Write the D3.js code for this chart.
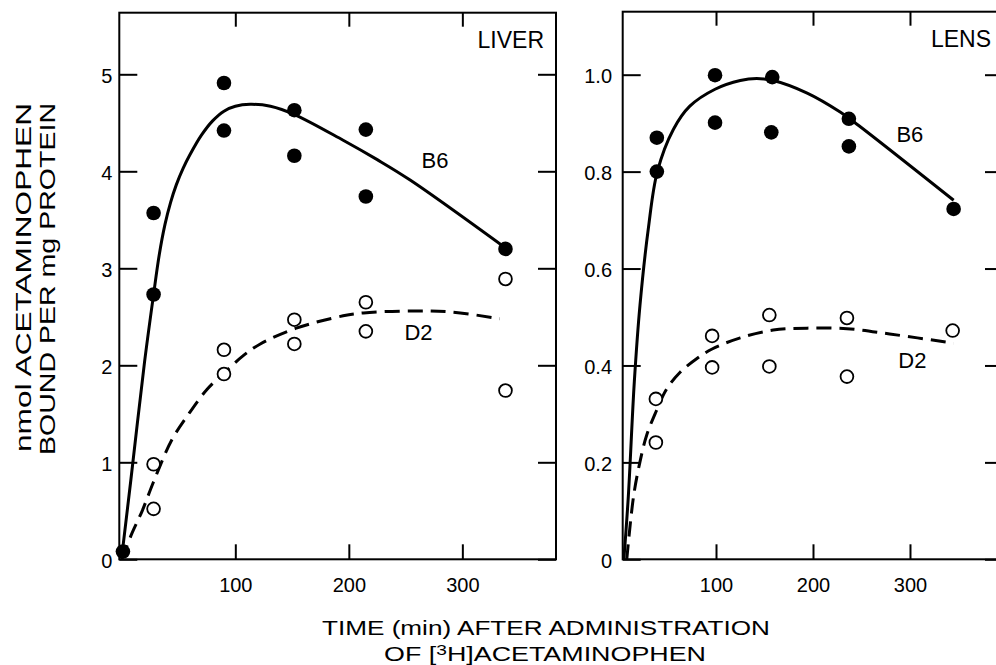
<!DOCTYPE html>
<html><head><meta charset="utf-8">
<script src="https://cdn.jsdelivr.net/npm/d3@7"></script>
<style>
body{margin:0;background:#fff}
svg{display:block}
text{font-family:"Liberation Sans",Arial,Helvetica,sans-serif;fill:#000}
</style>
</head><body>
<svg id="chart" width="996" height="665"></svg>
<script>
// ---------- data ----------
const xTickValues = [100, 200, 300];
const liverYTicks = [0, 1, 2, 3, 4, 5];
const lensYTicks = [0, 0.2, 0.4, 0.6, 0.8, 1.0];

// LIVER: [time (min), nmol/mg protein]
const liverB6 = [[1,0.08],[28,2.73],[28,3.57],[90,4.91],[90,4.42],[152,4.63],[152,4.16],[215,4.43],[215,3.74],[338,3.20]];
const liverD2 = [[28,0.98],[28,0.52],[90,2.16],[90,1.91],[152,2.47],[152,2.22],[215,2.65],[215,2.35],[338,2.89],[338,1.74]];
const liverB6Fit = [[0,0.03],[8,0.82],[20,2.03],[28,2.73],[33,3.14],[38,3.45],[43,3.68],[48,3.86],[54,4.03],[60,4.17],[70,4.37],[80,4.52],[90,4.62],[100,4.67],[113,4.69],[131,4.67],[153,4.58],[195,4.32],[225,4.12],[254,3.91],[338,3.21]];
const liverD2Fit = [[0,0],[9,0.27],[18,0.50],[28,0.80],[44,1.23],[59,1.50],[75,1.75],[91,1.93],[107,2.10],[122,2.22],[153,2.38],[195,2.51],[213,2.54],[254,2.56],[290,2.55],[333,2.48]];

// LENS
const lensB6 = [[39,0.870],[39,0.800],[99,0.999],[99,0.901],[158,0.995],[157,0.881],[237,0.909],[237,0.852],[345,0.723]];
const lensD2 = [[38,0.331],[38,0.241],[96,0.461],[96,0.396],[155,0.504],[155,0.398],[235,0.498],[235,0.377],[344,0.472]];
const lensB6Fit = [[5,0],[9.6,0.13],[15.8,0.367],[21.6,0.524],[30.2,0.682],[39.5,0.80],[56,0.887],[73,0.935],[99,0.970],[125,0.988],[142,0.992],[159,0.988],[194,0.962],[228,0.923],[242,0.903],[345,0.741]];
const lensD2Fit = [[8,0],[15,0.13],[21.6,0.201],[28.5,0.256],[38,0.304],[49,0.351],[63,0.386],[80,0.414],[96,0.434],[125,0.457],[159,0.473],[194,0.477],[235,0.476],[279,0.465],[345,0.446]];

// series label anchors [time, value]
const liverLabels = [["B6",[264,4.03]],["D2",[249,2.26]]];
const lensLabels = [["B6",[286,0.862]],["D2",[288,0.395]]];

const panelNames = ["LIVER", "LENS"];
const yTitleLines = ["nmol ACETAMINOPHEN", "BOUND PER mg PROTEIN"];

// ---------- drawing ----------
const svg = d3.select("#chart");
svg.append("rect").attr("width", 996).attr("height", 665).attr("fill", "#fff");

const panels = [
  {name: panelNames[0], b6: liverB6, d2: liverD2, b6Fit: liverB6Fit, d2Fit: liverD2Fit,
   yTicks: liverYTicks, fmt: d => String(d), labels: liverLabels,
   xDomain: [-2.2, 382.5], xRange: [119.3, 556], yDomain: [0, 5.635], yRange: [559.3, 12.7], labPad: 7},
  {name: panelNames[1], b6: lensB6, d2: lensD2, b6Fit: lensB6Fit, d2Fit: lensD2Fit,
   yTicks: lensYTicks, fmt: d => d === 0 ? "0" : d.toFixed(1), labels: lensLabels,
   xDomain: [3.8, 395.9], xRange: [622.7, 1003], yDomain: [0, 1.130], yRange: [559.3, 11.7], labPad: 10.7}
];

panels.forEach(p => {
  const x = d3.scaleLinear().domain(p.xDomain).range(p.xRange);
  const y = d3.scaleLinear().domain(p.yDomain).range(p.yRange);
  const [x0, x1] = p.xRange, [yb, yt] = p.yRange;
  const g = svg.append("g");

  g.append("rect").attr("x", x0).attr("y", yt).attr("width", x1 - x0).attr("height", yb - yt)
    .attr("fill", "none").attr("stroke", "#000").attr("stroke-width", 2);

  const styleAxis = sel => {
    sel.select(".domain").remove();
    sel.selectAll(".tick line").attr("stroke", "#000").attr("stroke-width", 2);
  };

  const bx = g.append("g").attr("transform", `translate(0,${yb})`)
    .call(d3.axisBottom(x).tickValues(xTickValues).tickSize(-15).tickPadding(0));
  styleAxis(bx);
  bx.selectAll(".tick text").attr("y", 32.4).attr("dy", null)
    .attr("font-size", 20).attr("font-family", null).attr("fill", "#000");

  const tx = g.append("g").attr("transform", `translate(0,${yt})`)
    .call(d3.axisTop(x).tickValues(xTickValues).tickSize(-14).tickFormat(""));
  styleAxis(tx);

  const ly = g.append("g").attr("transform", `translate(${x0},0)`)
    .call(d3.axisLeft(y).tickValues(p.yTicks).tickSize(-18).tickFormat(p.fmt));
  styleAxis(ly);
  ly.selectAll(".tick text").attr("x", -p.labPad).attr("dy", null).attr("y", 8)
    .attr("font-size", 20).attr("font-family", null).attr("fill", "#000");

  const ry = g.append("g").attr("transform", `translate(${x1},0)`)
    .call(d3.axisRight(y).tickValues(p.yTicks).tickSize(-18).tickFormat(""));
  styleAxis(ry);

  g.append("text").attr("x", x1 - 12).attr("y", yt + 35).attr("text-anchor", "end")
    .attr("font-size", 23).text(p.name);

  const line = d3.line().x(d => x(d[0])).y(d => y(d[1])).curve(d3.curveCatmullRom.alpha(0.5));
  g.append("path").attr("d", line(p.b6Fit)).attr("fill", "none").attr("stroke", "#000")
    .attr("stroke-width", 3).attr("stroke-linejoin", "round");
  g.append("path").attr("d", line(p.d2Fit)).attr("fill", "none").attr("stroke", "#000")
    .attr("stroke-width", 3).attr("stroke-dasharray", "15 8");

  g.selectAll(".open").data(p.d2).join("circle").attr("class", "open")
    .attr("cx", d => x(d[0])).attr("cy", d => y(d[1])).attr("r", 6.4)
    .attr("fill", "#fff").attr("stroke", "#000").attr("stroke-width", 1.8);
  g.selectAll(".filled").data(p.b6).join("circle").attr("class", "filled")
    .attr("cx", d => x(d[0])).attr("cy", d => y(d[1])).attr("r", 7.3).attr("fill", "#000");

  g.selectAll(".slab").data(p.labels).join("text").attr("class", "slab")
    .attr("x", d => x(d[1][0])).attr("y", d => y(d[1][1])).attr("font-size", 22).text(d => d[0]);
});

// y axis title
svg.append("text").attr("transform", "translate(31,277.5) rotate(-90)")
  .attr("text-anchor", "middle").attr("font-size", 22)
  .attr("textLength", 349).attr("lengthAdjust", "spacingAndGlyphs").text(yTitleLines[0]);
svg.append("text").attr("transform", "translate(55,279) rotate(-90)")
  .attr("text-anchor", "middle").attr("font-size", 22)
  .attr("textLength", 352).attr("lengthAdjust", "spacingAndGlyphs").text(yTitleLines[1]);

// x axis title
svg.append("text").attr("x", 322).attr("y", 635).attr("font-size", 21)
  .attr("textLength", 448).attr("lengthAdjust", "spacingAndGlyphs")
  .text("TIME (min) AFTER ADMINISTRATION");
const xt2 = svg.append("text").attr("x", 384).attr("y", 661).attr("font-size", 21)
  .attr("textLength", 322).attr("lengthAdjust", "spacingAndGlyphs");
xt2.append("tspan").text("OF [");
xt2.append("tspan").attr("dy", -6).attr("font-size", 15).text("3");
xt2.append("tspan").attr("dy", 6).text("H]ACETAMINOPHEN");
</script>
</body></html>
